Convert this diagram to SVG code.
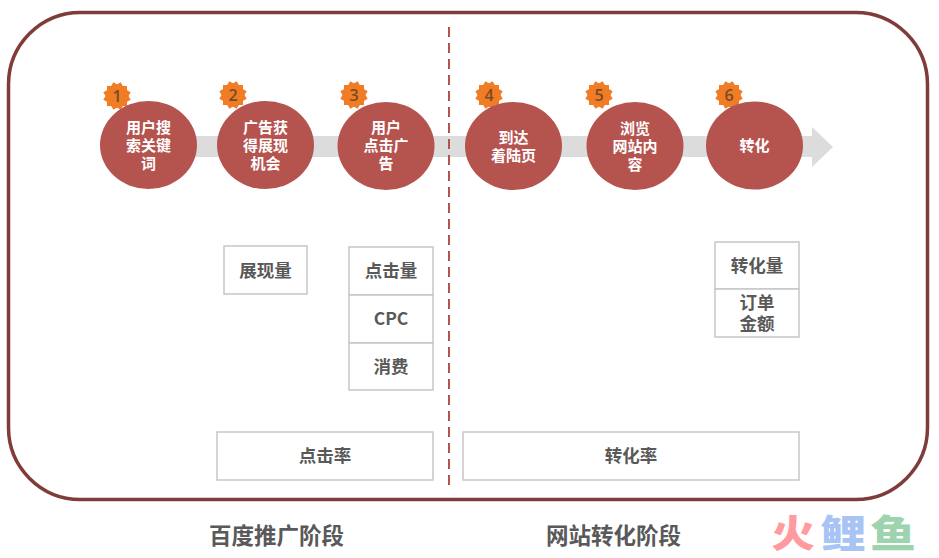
<svg xmlns="http://www.w3.org/2000/svg" width="939" height="558" viewBox="0 0 939 558">
<style>
text{font-family:"Noto Sans CJK SC","Open Sans",sans-serif;font-weight:700;text-anchor:middle}
.c{fill:#b5534f}
.ct{fill:#fff;font-size:15px}
.n{fill:#7a4a24;font-size:16px;font-family:"Open Sans",sans-serif;font-weight:600}
.s{fill:#f07d26}
.b{fill:#fff;stroke:#c6c6c6;stroke-width:1.5}
.bt{fill:#595959;font-size:17.500px}
.h{fill:#595959;font-size:22.500px}
.l{font-size:38px;font-weight:900}
</style>
<defs>
<g id="star"><rect class="s" x="-10" y="-10" width="20" height="20"/><rect class="s" x="-10" y="-10" width="20" height="20" transform="rotate(30)"/><rect class="s" x="-10" y="-10" width="20" height="20" transform="rotate(60)"/></g>
</defs>
<rect width="939" height="558" fill="#fff"/>
<rect id="frame" x="8.500" y="12.500" width="919" height="487" rx="72" ry="72" fill="#fff" stroke="#7f3c39" stroke-width="3.500"/>
<g id="connectors">
<path id="flow-arrow" d="M190 136H812V127L833 147L812 167V157H190Z" fill="#dcdcdc"/>
<line id="divider" x1="449" y1="27" x2="449" y2="487" stroke="#b5524f" stroke-width="2" stroke-dasharray="10 6"/>
</g>
<g id="step1"><use href="#star" x="117" y="96"/><text class="n" x="117" y="102">1</text><ellipse class="c" cx="148.500" cy="145" rx="48.500" ry="44"/><text class="ct"><tspan x="148.500" y="133">用户搜</tspan><tspan x="148.500" y="151">索关键</tspan><tspan x="148.500" y="169">词</tspan></text></g>
<g id="step2"><use href="#star" x="233" y="95"/><text class="n" x="233" y="101">2</text><ellipse class="c" cx="265.500" cy="145" rx="48.500" ry="44"/><text class="ct"><tspan x="265.500" y="133">广告获</tspan><tspan x="265.500" y="151">得展现</tspan><tspan x="265.500" y="169">机会</tspan></text></g>
<g id="step3"><use href="#star" x="354" y="95"/><text class="n" x="354" y="101">3</text><ellipse class="c" cx="386" cy="146" rx="48.500" ry="44"/><text class="ct"><tspan x="386" y="133">用户</tspan><tspan x="386" y="151">点击广</tspan><tspan x="386" y="169">告</tspan></text></g>
<g id="step4"><use href="#star" x="489" y="95"/><text class="n" x="489" y="101">4</text><ellipse class="c" cx="513.500" cy="146" rx="48.500" ry="44"/><text class="ct"><tspan x="513.500" y="143">到达</tspan><tspan x="513.500" y="161">着陆页</tspan></text></g>
<g id="step5"><use href="#star" x="599" y="95"/><text class="n" x="599" y="101">5</text><ellipse class="c" cx="635" cy="146" rx="48.500" ry="44"/><text class="ct"><tspan x="635" y="134">浏览</tspan><tspan x="635" y="152">网站内</tspan><tspan x="635" y="170">容</tspan></text></g>
<g id="step6"><use href="#star" x="729" y="95"/><text class="n" x="729" y="101">6</text><ellipse class="c" cx="754.500" cy="145.500" rx="48.500" ry="44"/><text class="ct" x="754.500" y="151">转化</text></g>
<g id="box-impressions"><rect class="b" x="224" y="246" width="83" height="48"/><text class="bt" x="265.500" y="277">展现量</text></g>
<g id="box-clicks"><rect class="b" x="349" y="247" width="84" height="48"/><text class="bt" x="391" y="277">点击量</text></g>
<g id="box-cpc"><rect class="b" x="349" y="295" width="84" height="48"/><text class="bt" x="391" y="325">CPC</text></g>
<g id="box-spend"><rect class="b" x="349" y="343" width="84" height="47"/><text class="bt" x="391" y="373">消费</text></g>
<g id="box-ctr"><rect class="b" x="217" y="432" width="216" height="48"/><text class="bt" x="325" y="462">点击率</text></g>
<g id="box-cvr"><rect class="b" x="463" y="432" width="336" height="48"/><text class="bt" x="631" y="462">转化率</text></g>
<g id="box-conversions"><rect class="b" x="715" y="242" width="84" height="47"/><text class="bt" x="757" y="272">转化量</text></g>
<g id="box-orders"><rect class="b" x="715" y="289" width="84" height="48"/><text class="bt"><tspan x="757" y="309">订单</tspan><tspan x="757" y="330">金额</tspan></text></g>
<text class="h" x="276.500" y="544">百度推广阶段</text>
<text class="h" x="613.500" y="544">网站转化阶段</text>
<g id="logo"><text class="l" transform="translate(793 547) scale(1.15 1)" style="fill:#ff9a9e">火</text><text class="l" transform="translate(843 547) scale(1.200 1)" style="fill:#a8c4f5">鲤</text><text class="l" transform="translate(893 547) scale(1.200 1)" style="fill:#9dd3ae">鱼</text></g>
</svg>
